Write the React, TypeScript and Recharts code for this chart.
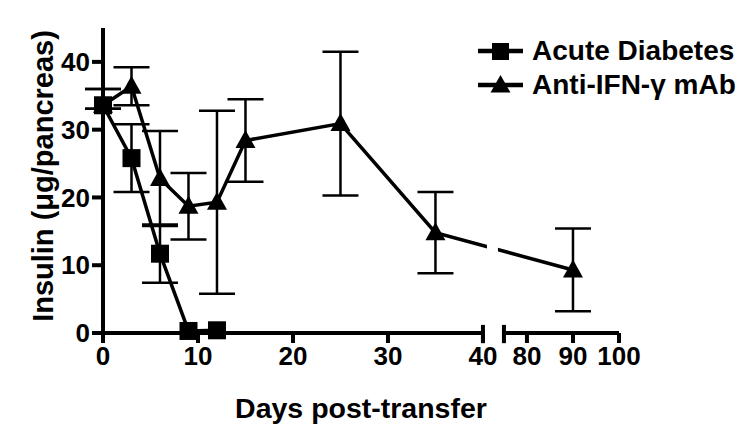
import React from 'react';
import {
  LineChart, Line, XAxis, YAxis, ErrorBar, ReferenceLine, ReferenceArea, Legend,
} from 'recharts';

// ---- data ----
const seriesNames = ['Acute Diabetes', 'Anti-IFN-\u03B3 mAb'];

const acuteDays = [0, 3, 6, 9, 12];
const acuteMean = [33.6, 25.8, 11.7, 0.3, 0.4];
const acuteErr: (number | [number, number])[] = [[0.5, 2.4], 5.0, 4.3, 0, 0];

const antiDays = [0, 3, 6, 9, 12, 15, 25, 35, 90];
const antiMean = [33.6, 36.4, 22.8, 18.7, 19.3, 28.4, 30.9, 14.8, 9.3];
const antiErr: (number | [number, number])[] = [[0.5, 2.4], 2.8, 7.0, 4.9, 13.5, 6.1, 10.6, 6.0, 6.1];

const xTickDays = [0, 10, 20, 30, 40, 80, 90, 100];
const yTicks = [0, 10, 20, 30, 40];
const yDomain: [number, number] = [0, 45];
// broken x axis: segment 1 = [0, 40], segment 2 = [75, 100]
const segment1: [number, number] = [0, 40];
const segment2: [number, number] = [75, 100];

// ---- broken-axis transform (day -> axis units) ----
const GAP = 2.21;       // axis units between the two segments
const SCALE2 = 0.4845;  // compression of the second segment
const toAxis = (d: number) =>
  d <= segment1[1] ? d : segment1[1] + GAP + (d - segment2[0]) * SCALE2;

const acuteData = acuteDays.map((d, i) => ({ x: toAxis(d), y: acuteMean[i], err: acuteErr[i] }));
const antiData = antiDays.map((d, i) => ({ x: toAxis(d), y: antiMean[i], err: antiErr[i] }));
const xTicks = xTickDays.map(toAxis);

const FONT = '"Liberation Sans", Arial, Helvetica, sans-serif';

const SquareDot = (props: any) => {
  const { cx, cy, index } = props;
  if (cx == null || cy == null) return <g key={`s${index}`} />;
  return <rect key={`s${index}`} x={cx - 9} y={cy - 9} width={18} height={18} fill="#000" />;
};

const TriangleDot = (props: any) => {
  const { cx, cy, index } = props;
  if (cx == null || cy == null) return <g key={`t${index}`} />;
  return (
    <polygon
      key={`t${index}`}
      points={`${cx},${cy - 10.5} ${cx - 10},${cy + 7.5} ${cx + 10},${cy + 7.5}`}
      fill="#000"
    />
  );
};

const LegendContent = () => (
  <div style={{ fontFamily: FONT, fontWeight: 'bold', fontSize: 28, color: '#000' }}>
    {seriesNames.map((name, i) => (
      <div key={name} style={{ display: 'flex', alignItems: 'center', height: 34 }}>
        <svg width={50} height={34}>
          <line x1={2} y1={17} x2={47} y2={17} stroke="#000" strokeWidth={4.5} />
          {i === 0 ? (
            <rect x={16} y={9} width={17} height={17} fill="#000" />
          ) : (
            <polygon points="24.5,7 14.5,24.5 34.5,24.5" fill="#000" />
          )}
        </svg>
        <span style={{ marginLeft: 6, lineHeight: '34px', whiteSpace: 'nowrap' }}>{name}</span>
      </div>
    ))}
  </div>
);

const tickStyle = { fontFamily: FONT, fontWeight: 'bold' as const, fill: '#000' };

export default function App() {
  return (
    <div style={{ position: 'absolute', left: 0, top: 0, width: 750, height: 430, background: '#fff' }}>
      <LineChart
        width={750}
        height={430}
        margin={{ top: 28, right: 131, bottom: 57, left: 43 }}
      >
        <XAxis
          type="number"
          dataKey="x"
          domain={[0, toAxis(segment2[1])]}
          ticks={xTicks}
          interval={0}
          tickFormatter={(_v: number, i: number) => String(xTickDays[i])}
          axisLine={false}
          tickLine={{ stroke: '#000', strokeWidth: 4 }}
          tickSize={10}
          tickMargin={4}
          height={40}
          tick={{ ...tickStyle, fontSize: 26 }}
          label={{
            content: () => (
              <text x={361} y={418} textAnchor="middle" style={{ fontFamily: FONT, fontWeight: 'bold', fontSize: 28.5 }} fill="#000">
                Days post-transfer
              </text>
            ),
          }}
        />
        <YAxis
          type="number"
          domain={yDomain}
          ticks={yTicks}
          interval={0}
          width={60}
          axisLine={{ stroke: '#000', strokeWidth: 4 }}
          tickLine={{ stroke: '#000', strokeWidth: 4 }}
          tickSize={11}
          tickMargin={2}
          tick={{ ...tickStyle, fontSize: 26 }}
          label={{
            content: () => (
              <text
                x={53}
                y={176}
                transform="rotate(-90 53 176)"
                textAnchor="middle"
                style={{ fontFamily: FONT, fontWeight: 'bold', fontSize: 29 }}
                fill="#000"
              >
                Insulin ({'\u03BC'}g/pancreas)
              </text>
            ),
          }}
        />

        {/* broken x-axis line */}
        <ReferenceLine
          segment={[{ x: toAxis(segment1[0]), y: 0 }, { x: toAxis(segment1[1]), y: 0 }]}
          stroke="#000" strokeWidth={4} ifOverflow="visible"
        />
        <ReferenceLine
          segment={[{ x: toAxis(segment2[0]), y: 0 }, { x: toAxis(segment2[1]), y: 0 }]}
          stroke="#000" strokeWidth={4} ifOverflow="visible"
        />
        <ReferenceLine
          segment={[{ x: toAxis(segment1[1]), y: -1.5 }, { x: toAxis(segment1[1]), y: 1.2 }]}
          stroke="#000" strokeWidth={4} ifOverflow="visible"
        />
        <ReferenceLine
          segment={[{ x: toAxis(segment2[0]), y: -1.5 }, { x: toAxis(segment2[0]), y: 1.2 }]}
          stroke="#000" strokeWidth={4} ifOverflow="visible"
        />

        <Line
          data={antiData}
          dataKey="y"
          name={seriesNames[1]}
          stroke="#000"
          strokeWidth={3.5}
          dot={TriangleDot}
          activeDot={false}
          isAnimationActive={false}
        >
          <ErrorBar dataKey="err" width={18} stroke="#000" strokeWidth={2.5} direction="y" />
        </Line>
        <Line
          data={acuteData}
          dataKey="y"
          name={seriesNames[0]}
          stroke="#000"
          strokeWidth={3.5}
          dot={SquareDot}
          activeDot={false}
          isAnimationActive={false}
        >
          <ErrorBar dataKey="err" width={18} stroke="#000" strokeWidth={2.5} direction="y" />
        </Line>

        {/* gap in the line where it crosses the axis break */}
        <ReferenceArea
          x1={40.42}
          x2={41.58}
          y1={10.5}
          y2={15}
          fill="#fff"
          fillOpacity={1}
          stroke="none"
          ifOverflow="visible"
          zIndex={2500}
        />

        <Legend
          layout="vertical"
          align="center"
          verticalAlign="middle"
          content={<LegendContent />}
          wrapperStyle={{ left: 476, top: 34, width: 280 }}
        />
      </LineChart>
    </div>
  );
}
